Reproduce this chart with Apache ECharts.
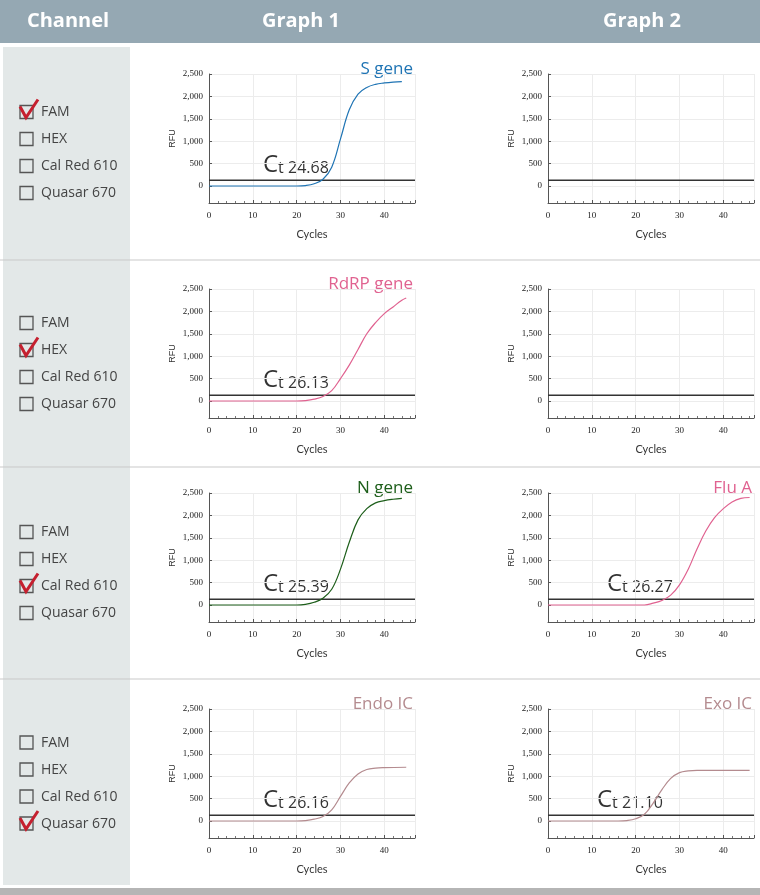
<!DOCTYPE html>
<html><head><meta charset="utf-8">
<script src="https://cdn.jsdelivr.net/npm/echarts@6/dist/echarts.min.js"></script>
<style>html,body{margin:0;padding:0;background:#fff}#main{width:760px;height:895px}</style>
</head><body><div id="main"></div>
<script>
// channels and headers
var channels = ['FAM', 'HEX', 'Cal Red 610', 'Quasar 670'];
var headers = ['Channel', 'Graph 1', 'Graph 2'];
var threshold = 130;

// curves: [cycle, RFU]
var sGene = [[0,0],[20,0],[22,10],[24,50],[26,150],[28,420],[30,1050],[32,1700],[34,2050],[36,2200],[38,2270],[40,2300],[42,2320],[44,2330]];
var rdrpGene = [[0,0],[20,0],[22,10],[24,40],[26,100],[28,230],[30,500],[32,800],[34,1150],[36,1500],[38,1750],[40,1950],[42,2100],[44,2250],[45,2300]];
var nGene = [[0,0],[20,0],[22,15],[24,60],[26,150],[28,350],[30,800],[32,1400],[34,1900],[36,2150],[38,2280],[40,2330],[42,2360],[44,2380]];
var fluA = [[0,0],[22,0],[24,40],[26,100],[28,220],[30,450],[32,800],[34,1250],[36,1650],[38,1950],[40,2150],[42,2300],[44,2380],[46,2400]];
var endoIC = [[0,0],[20,0],[22,10],[24,40],[26,100],[28,250],[30,550],[32,850],[34,1050],[36,1150],[38,1180],[40,1190],[45,1200]];
var exoIC = [[0,0],[16,0],[18,10],[20,50],[22,150],[24,400],[26,700],[28,950],[30,1080],[32,1120],[34,1130],[46,1130]];

// panels: row, col, curve, name, colour, Ct
var panels = [
	{row: 0, col: 0, data: sGene, name: 'S gene', color: '#1f74b4', ct: '24.68'},
	{row: 0, col: 1},
	{row: 1, col: 0, data: rdrpGene, name: 'RdRP gene', color: '#e06290', ct: '26.13'},
	{row: 1, col: 1},
	{row: 2, col: 0, data: nGene, name: 'N gene', color: '#1d5e1a', ct: '25.39'},
	{row: 2, col: 1, data: fluA, name: 'Flu A', color: '#e06290', ct: '26.27'},
	{row: 3, col: 0, data: endoIC, name: 'Endo IC', color: '#b48b8f', ct: '26.16'},
	{row: 3, col: 1, data: exoIC, name: 'Exo IC', color: '#b48b8f', ct: '21.10'}
];

var rowTop = [74, 289, 493, 709];
var rowBand = [[47, 258], [262, 465], [469, 676], [681, 885]];
var colLeft = [209, 548];
var ctX = [[263, 263, 263, 263], [0, 0, 607, 597]];

var chart = echarts.init(document.getElementById('main'));
var grids = [], xAxes = [], yAxes = [], series = [], graphics = [];
var tickFont = {fontSize: 9, color: '#222', fontFamily: 'Liberation Sans Narrow'};

// header bar and left panel
graphics.push({type: 'rect', shape: {x: 0, y: 0, width: 760, height: 43}, style: {fill: '#95a8b3'}});
[68, 301, 642].forEach(function (x, i) {
	graphics.push({type: 'text', x: x, y: 21, style: {text: headers[i], fill: '#fff', font: 'bold 20px "Open Sans"', align: 'center', verticalAlign: 'middle'}});
});
graphics.push({type: 'rect', shape: {x: 3, y: 47, width: 127, height: 838}, style: {fill: '#e3e8e8'}});
graphics.push({type: 'rect', shape: {x: 0, y: 888, width: 760, height: 7}, style: {fill: '#b5b5b5'}});
[260, 467, 679].forEach(function (y) {
	graphics.push({type: 'line', shape: {x1: 0, y1: y, x2: 760, y2: y}, style: {stroke: '#c9c9c9', lineWidth: 1}});
});

rowBand.forEach(function (band, r) {
	var mid = (band[0] + band[1]) / 2;
	channels.forEach(function (ch, k) {
		var y = mid - 40 + k * 27;
		graphics.push({type: 'rect', shape: {x: 20, y: y - 7, width: 13, height: 13}, style: {fill: 'none', stroke: '#555', lineWidth: 1.3}});
		graphics.push({type: 'text', x: 41, y: y, style: {text: ch, fill: '#444', font: '14px "Open Sans"', verticalAlign: 'middle'}});
		if (k === r) {
			graphics.push({type: 'polyline', shape: {points: [[20, y - 6], [26, y + 5], [38, y - 13]]}, style: {stroke: '#c5202f', lineWidth: 3, fill: 'none'}});
		}
	});
});

panels.forEach(function (p, i) {
	var left = colLeft[p.col], top = rowTop[p.row];
	grids.push({left: left, top: top, width: 206, height: 129});
	xAxes.push({
		type: 'value', gridIndex: i, min: 0, max: 47, interval: 10,
		axisLine: {onZero: false, lineStyle: {color: '#555'}},
		axisTick: {show: true, length: 3, inside: true, lineStyle: {color: '#555'}},
		minorTick: {show: true, splitNumber: 5, length: 2, lineStyle: {color: '#777'}},
		splitLine: {show: true, lineStyle: {color: '#ececec'}},
		axisLabel: Object.assign({showMaxLabel: false, margin: 8}, tickFont),
		name: 'Cycles', nameLocation: 'middle', nameGap: 26,
		nameTextStyle: {fontSize: 11, color: '#333', fontFamily: 'Lato'}
	});
	yAxes.push({
		type: 'value', gridIndex: i, min: -380, max: 2500,
		axisLine: {show: true, lineStyle: {color: '#555'}},
		axisTick: {show: true, length: 3, inside: true, customValues: [0, 500, 1000, 1500, 2000, 2500], lineStyle: {color: '#555'}},
		splitLine: {show: true, lineStyle: {color: '#ececec'}},
		axisLabel: Object.assign({customValues: [0, 500, 1000, 1500, 2000, 2500], margin: 6}, tickFont),
		name: 'RFU', nameLocation: 'middle', nameGap: 32, nameRotate: 90,
		nameTextStyle: {fontSize: 9, color: '#333', fontFamily: 'Liberation Sans'}
	});
	series.push({
		type: 'line', xAxisIndex: i, yAxisIndex: i, data: [[0, threshold], [47, threshold]],
		symbol: 'none', silent: true, lineStyle: {color: '#333', width: 1.5}, animation: false
	});
	if (p.data) {
		series.push({
			type: 'line', xAxisIndex: i, yAxisIndex: i, data: p.data, smooth: 0.4,
			symbol: 'none', lineStyle: {color: p.color, width: 1.2}, animation: false, z: 3
		});
		graphics.push({type: 'text', x: left + 204, y: top - 5, style: {text: p.name, fill: p.color, font: '17px "Open Sans"', align: 'right', verticalAlign: 'middle'}});
		graphics.push({type: 'text', x: ctX[p.col][p.row], y: top + 91, style: {
			text: '{c|C}{t|t 24.68}'.replace('24.68', p.ct),
			verticalAlign: 'middle',
			rich: {c: {fontSize: 24, fill: '#333', fontFamily: 'Open Sans'}, t: {fontSize: 16, fill: '#333', fontFamily: 'Open Sans', padding: [6, 0, 0, 0]}}
		}});
	}
});

chart.setOption({
	animation: false,
	grid: grids, xAxis: xAxes, yAxis: yAxes, series: series,
	graphic: graphics
});
</script>
</body></html>
